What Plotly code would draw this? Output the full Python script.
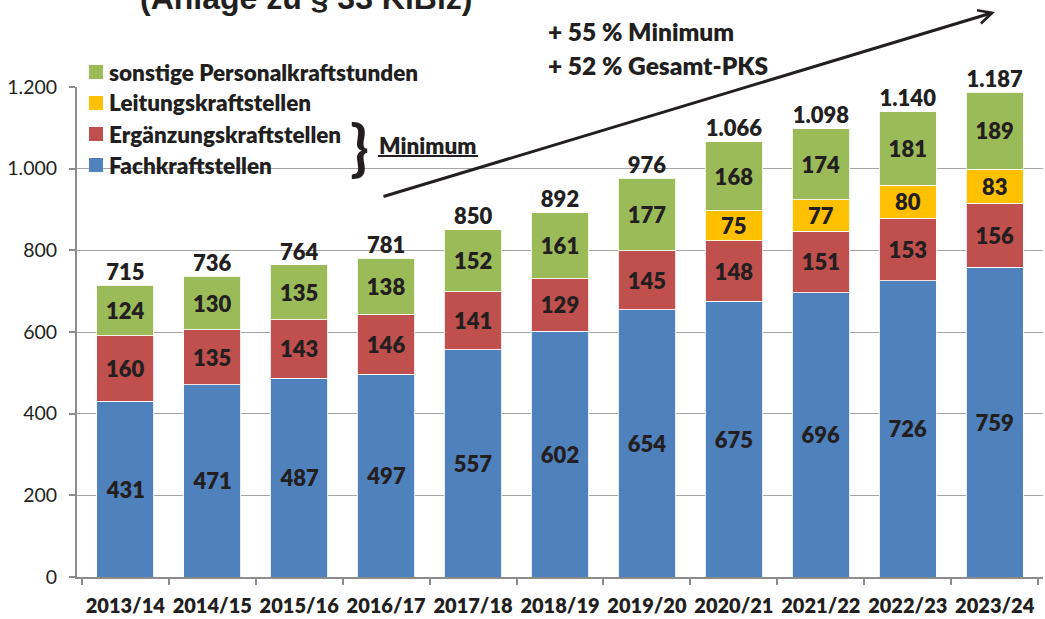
import plotly.graph_objects as go

categories = ["2013/14", "2014/15", "2015/16", "2016/17", "2017/18", "2018/19",
              "2019/20", "2020/21", "2021/22", "2022/23", "2023/24"]
fachkraft = [431, 471, 487, 497, 557, 602, 654, 675, 696, 726, 759]
ergaenzung = [160, 135, 143, 146, 141, 129, 145, 148, 151, 153, 156]
leitung = [None, None, None, None, None, None, None, 75, 77, 80, 83]
sonstige = [124, 130, 135, 138, 152, 161, 177, 168, 174, 181, 189]
totals = [715, 736, 764, 781, 850, 892, 976, 1066, 1098, 1140, 1187]
y_ticks = [0, 200, 400, 600, 800, 1000, 1200]

series_names = ["Fachkraftstellen", "Ergänzungskraftstellen", "Leitungskraftstellen",
                "sonstige Personalkraftstunden"]
series_values = [fachkraft, ergaenzung, leitung, sonstige]
colors = ["#4F81BD", "#C0504D", "#FFC000", "#9BBB59"]

FONT = "Lato"
TXT = "#231f20"
WB = 800

W, H = 1045, 619
L, T = 77, 87
R = W - 1043
B = H - 577
PW, PH = W - L - R, H - T - B


def px(xp):
    return (xp - L) / PW


def py(yp):
    return (H - B - yp) / PH


def de(n):
    return f"{n:,}".replace(",", ".")


def bfont(size, family=FONT, weight=WB):
    return dict(family=family, size=size, color=TXT, weight=weight)


fig = go.Figure()
for name, vals, col in zip(series_names, series_values, colors):
    fig.add_trace(go.Bar(
        x=categories, y=vals, name=name,
        marker=dict(color=col, line=dict(color="rgba(255,255,255,0.85)", width=1)),
        text=["" if v is None else str(v) for v in vals],
        textposition="inside", insidetextanchor="middle", textangle=0,
        textfont=bfont(22),
        constraintext="none", showlegend=False, hoverinfo="skip",
    ))

fig.add_trace(go.Scatter(
    x=categories, y=totals, mode="text",
    text=[de(t) for t in totals], textposition="top center",
    textfont=bfont(22),
    showlegend=False, hoverinfo="skip", cliponaxis=False,
))

annotations = []
shapes = []

# custom legend (top entry first)
leg_y = [72, 103, 134, 165]
for i, idx in enumerate([3, 2, 1, 0]):
    yc = leg_y[i]
    shapes.append(dict(type="rect", xref="paper", yref="paper",
                       x0=px(89), x1=px(103), y0=py(yc + 7), y1=py(yc - 7),
                       fillcolor=colors[idx], line=dict(width=0), layer="above"))
    annotations.append(dict(xref="paper", yref="paper", x=px(107), y=py(yc),
                            xanchor="left", yanchor="middle", showarrow=False,
                            text=series_names[idx], font=bfont(22.5)))

# brace and "Minimum"
annotations.append(dict(xref="paper", yref="paper", x=px(359), y=py(146),
                        xanchor="center", yanchor="middle", showarrow=False,
                        text="}", font=bfont(62, weight=700)))
annotations.append(dict(xref="paper", yref="paper", x=px(377), y=py(145),
                        xanchor="left", yanchor="middle", showarrow=False,
                        text="Minimum", font=bfont(22.5)))
shapes.append(dict(type="line", xref="paper", yref="paper",
                   x0=px(378), x1=px(478), y0=py(156), y1=py(156),
                   line=dict(color=TXT, width=2)))

# arrow
annotations.append(dict(xref="paper", yref="paper", x=px(995), y=py(12),
                        ax=382 - 995, ay=197 - 12, showarrow=True, text="",
                        arrowhead=5, arrowsize=0.9, arrowwidth=3, arrowcolor=TXT))

# growth texts
annotations.append(dict(xref="paper", yref="paper", x=px(546), y=py(32),
                        xanchor="left", yanchor="middle", showarrow=False,
                        text="+ 55 % Minimum", font=bfont(24.5)))
annotations.append(dict(xref="paper", yref="paper", x=px(546), y=py(66),
                        xanchor="left", yanchor="middle", showarrow=False,
                        text="+ 52 % Gesamt-PKS", font=bfont(24.5)))

# cut-off title
annotations.append(dict(xref="paper", yref="paper", x=px(306), y=py(-2),
                        xanchor="center", yanchor="middle", showarrow=False,
                        text="(Anlage zu § 33 KiBiz)",
                        font=bfont(32, "Liberation Sans", 700)))

fig.update_layout(
    width=W, height=H, barmode="stack", bargap=0.34,
    margin=dict(l=L, r=R, t=T, b=B, autoexpand=False),
    paper_bgcolor="white", plot_bgcolor="white",
    separators=",.",
    annotations=annotations, shapes=shapes,
    font=dict(family=FONT, color=TXT),
)
fig.update_xaxes(
    showline=True, linecolor="#8c8c8c", linewidth=2,
    ticks="outside", tickson="boundaries", ticklen=6, tickcolor="#8c8c8c", tickwidth=1.5,
    tickfont=bfont(20), tickangle=0, automargin=False,
    ticklabelstandoff=10,
)
fig.update_yaxes(
    range=[0, 1200], tickvals=y_ticks, tickformat=",d",
    showline=True, linecolor="#8c8c8c", linewidth=2,
    ticks="outside", ticklen=6, tickcolor="#8c8c8c", tickwidth=1.5,
    showgrid=True, gridcolor="#a6a6a6", gridwidth=1,
    tickfont=dict(family=FONT, size=19.5, color=TXT),
    ticklabelstandoff=8, zeroline=False, automargin=False,
)

fig.write_html("out.html", config={"displayModeBar": False},
               post_script="document.body.style.margin='0';document.body.style.overflow='hidden';")
